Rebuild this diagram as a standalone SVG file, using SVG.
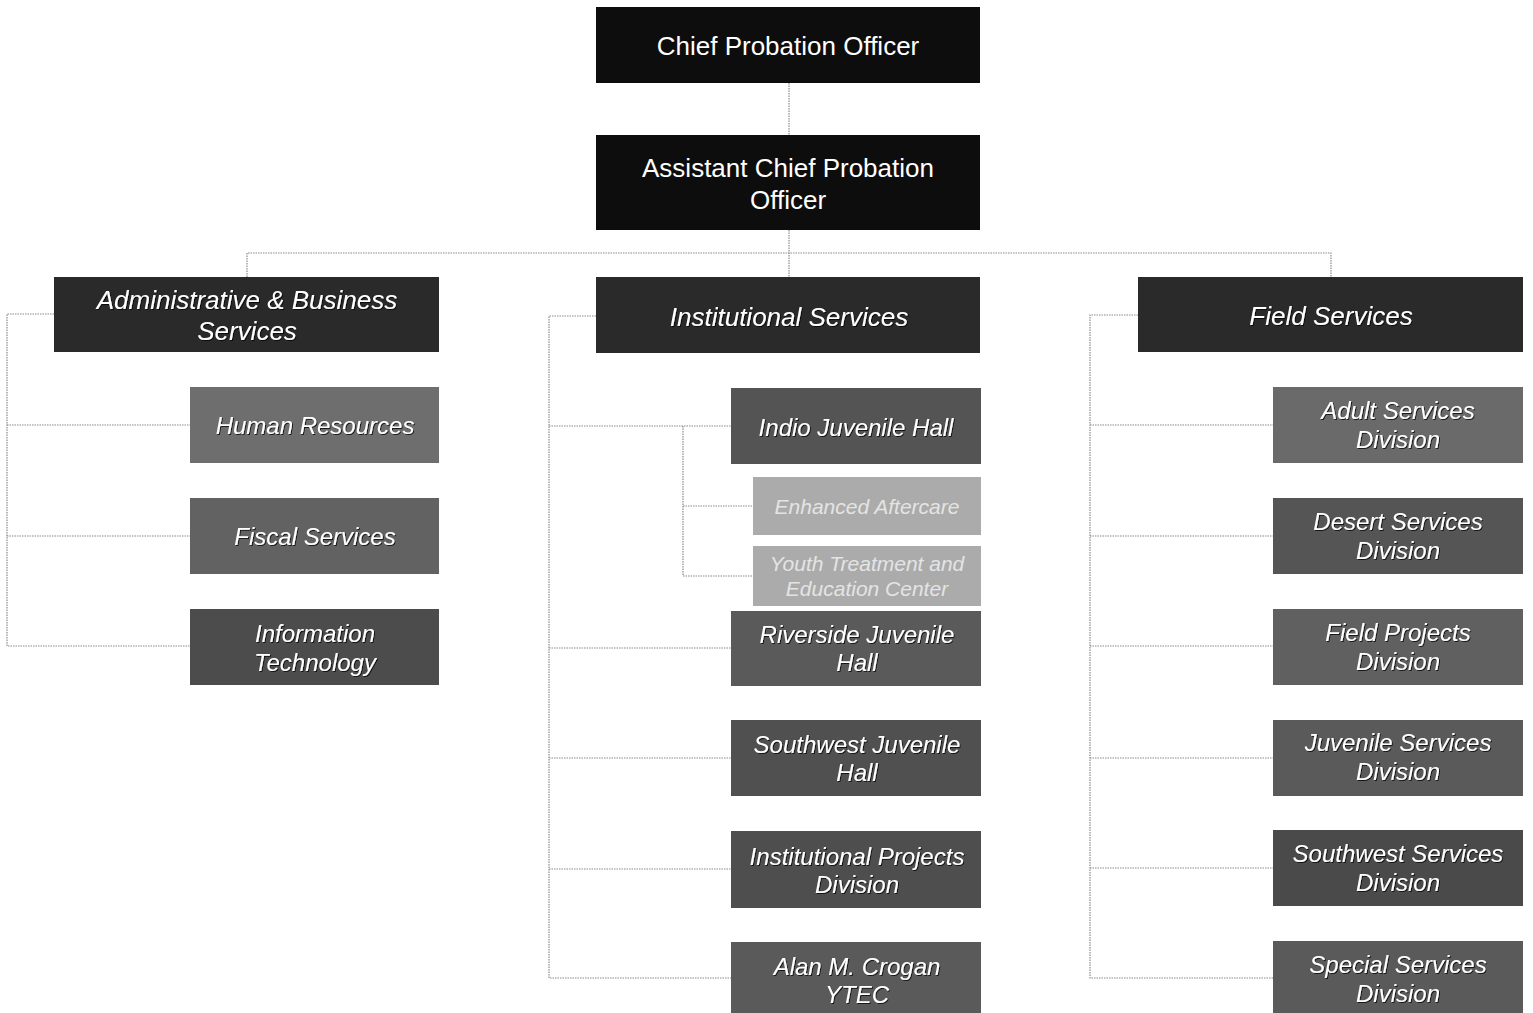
<svg xmlns="http://www.w3.org/2000/svg" width="1533" height="1013" viewBox="0 0 1533 1013">
  <defs>
    <filter id="shadow" x="-10%" y="-30%" width="120%" height="160%">
      <feDropShadow dx="1" dy="1" stdDeviation="0.7" flood-color="#000" flood-opacity="0.75"/>
    </filter>
    <style>
      .bg { fill: #ffffff; }
      .lead rect { fill: #0d0d0d; }
      .lead text { fill: #ffffff; font-family: "Liberation Sans", Arial, sans-serif; font-size: 26px; text-anchor: middle; }
      .branch rect { fill: #2a2a2a; }
      .branch text { fill: #ffffff; font-family: "Liberation Sans", Arial, sans-serif; font-size: 26px; font-style: italic; text-anchor: middle; filter: url(#shadow); }
      .unit text { fill: #ffffff; font-family: "Liberation Sans", Arial, sans-serif; font-size: 24px; font-style: italic; text-anchor: middle; filter: url(#shadow); }
      .sub rect { fill: #ababab; }
      .sub text { fill: #e4e4e4; font-family: "Liberation Sans", Arial, sans-serif; font-size: 21px; font-style: italic; text-anchor: middle; }
      .links path { fill: none; stroke: #8a8a8a; stroke-width: 1.2; stroke-dasharray: 1.5 1; }
    </style>
  </defs>

  <rect class="bg" x="0" y="0" width="1533" height="1013"/>

  <!-- reporting lines -->
  <g id="connectors" class="links">
    <path d="M789 83 V135"/>
    <path d="M789 230 V277"/>
    <path d="M247 277 V253 H1331 V277"/>
    <!-- administrative & business services -->
    <path d="M54 314 H7 V646 H190"/>
    <path d="M7 425 H190"/>
    <path d="M7 536 H190"/>
    <!-- institutional services -->
    <path d="M596 316 H549 V978 H731"/>
    <path d="M549 426 H731"/>
    <path d="M549 648 H731"/>
    <path d="M549 758 H731"/>
    <path d="M549 869 H731"/>
    <path d="M683 426 V576 H753"/>
    <path d="M683 506 H753"/>
    <!-- field services -->
    <path d="M1138 315 H1090 V978 H1273"/>
    <path d="M1090 425 H1273"/>
    <path d="M1090 536 H1273"/>
    <path d="M1090 646 H1273"/>
    <path d="M1090 758 H1273"/>
    <path d="M1090 868 H1273"/>
  </g>

  <!-- executive level -->
  <g id="chief" class="lead">
    <rect x="596" y="7" width="384" height="76"/>
    <text x="788" y="55">Chief Probation Officer</text>
  </g>
  <g id="assistant-chief" class="lead">
    <rect x="596" y="135" width="384" height="95"/>
    <text x="788" y="177">Assistant Chief Probation</text>
    <text x="788" y="209">Officer</text>
  </g>

  <!-- bureaus -->
  <g id="admin-business" class="branch">
    <rect x="54" y="277" width="385" height="75"/>
    <text x="247" y="309">Administrative &amp; Business</text>
    <text x="247" y="340">Services</text>
  </g>
  <g id="institutional" class="branch">
    <rect x="596" y="277" width="384" height="76"/>
    <text x="789" y="326">Institutional Services</text>
  </g>
  <g id="field" class="branch">
    <rect x="1138" y="277" width="385" height="75"/>
    <text x="1331" y="325">Field Services</text>
  </g>

  <!-- administrative & business units -->
  <g id="human-resources" class="unit">
    <rect x="190" y="387" width="249" height="76" fill="#6e6e6e"/>
    <text x="315" y="434">Human Resources</text>
  </g>
  <g id="fiscal-services" class="unit">
    <rect x="190" y="498" width="249" height="76" fill="#626262"/>
    <text x="315" y="545">Fiscal Services</text>
  </g>
  <g id="information-technology" class="unit">
    <rect x="190" y="609" width="249" height="76" fill="#4c4c4c"/>
    <text x="315" y="642">Information</text>
    <text x="315" y="671">Technology</text>
  </g>

  <!-- institutional units -->
  <g id="indio-juvenile-hall" class="unit">
    <rect x="731" y="388" width="250" height="76" fill="#545454"/>
    <text x="856" y="436">Indio Juvenile Hall</text>
  </g>
  <g id="enhanced-aftercare" class="sub">
    <rect x="753" y="477" width="228" height="58"/>
    <text x="867" y="514">Enhanced Aftercare</text>
  </g>
  <g id="youth-treatment" class="sub">
    <rect x="753" y="546" width="228" height="60" fill="#b3b3b3"/>
    <text x="867" y="571">Youth Treatment and</text>
    <text x="867" y="596">Education Center</text>
  </g>
  <g id="riverside-juvenile-hall" class="unit">
    <rect x="731" y="611" width="250" height="75" fill="#5a5a5a"/>
    <text x="857" y="643">Riverside Juvenile</text>
    <text x="857" y="671">Hall</text>
  </g>
  <g id="southwest-juvenile-hall" class="unit">
    <rect x="731" y="720" width="250" height="76" fill="#505050"/>
    <text x="857" y="753">Southwest Juvenile</text>
    <text x="857" y="781">Hall</text>
  </g>
  <g id="institutional-projects" class="unit">
    <rect x="731" y="831" width="250" height="77" fill="#4e4e4e"/>
    <text x="857" y="865">Institutional Projects</text>
    <text x="857" y="893">Division</text>
  </g>
  <g id="alan-m-crogan-ytec" class="unit">
    <rect x="731" y="942" width="250" height="71" fill="#5a5a5a"/>
    <text x="857" y="975">Alan M. Crogan</text>
    <text x="857" y="1003">YTEC</text>
  </g>

  <!-- field units -->
  <g id="adult-services" class="unit">
    <rect x="1273" y="387" width="250" height="76" fill="#6a6a6a"/>
    <text x="1398" y="419">Adult Services</text>
    <text x="1398" y="448">Division</text>
  </g>
  <g id="desert-services" class="unit">
    <rect x="1273" y="498" width="250" height="76" fill="#555555"/>
    <text x="1398" y="530">Desert Services</text>
    <text x="1398" y="559">Division</text>
  </g>
  <g id="field-projects" class="unit">
    <rect x="1273" y="609" width="250" height="76" fill="#606060"/>
    <text x="1398" y="641">Field Projects</text>
    <text x="1398" y="670">Division</text>
  </g>
  <g id="juvenile-services" class="unit">
    <rect x="1273" y="720" width="250" height="76" fill="#5a5a5a"/>
    <text x="1398" y="751">Juvenile Services</text>
    <text x="1398" y="780">Division</text>
  </g>
  <g id="southwest-services" class="unit">
    <rect x="1273" y="830" width="250" height="76" fill="#4a4a4a"/>
    <text x="1398" y="862">Southwest Services</text>
    <text x="1398" y="891">Division</text>
  </g>
  <g id="special-services" class="unit">
    <rect x="1273" y="941" width="250" height="72" fill="#5a5a5a"/>
    <text x="1398" y="973">Special Services</text>
    <text x="1398" y="1002">Division</text>
  </g>
</svg>
